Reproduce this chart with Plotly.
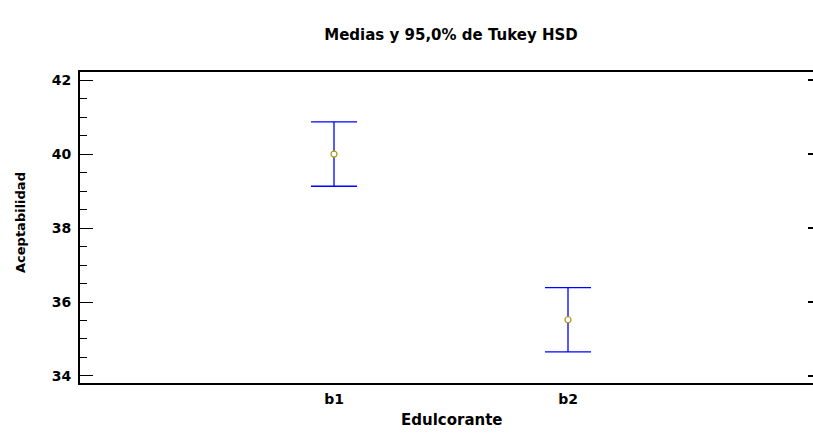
import plotly.graph_objects as go

# Tukey HSD interval data
categories = ["b1", "b2"]
means = [40.0, 35.52]
half_widths = [0.87, 0.87]

y_ticks = [34, 36, 38, 40, 42]

fig = go.Figure()

fig.add_trace(go.Scatter(
    x=categories,
    y=means,
    mode="markers",
    marker=dict(symbol="circle", size=6, color="white",
                line=dict(color="#A89A10", width=1.2)),
    error_y=dict(type="data", array=half_widths, symmetric=True,
                 color="#0000FF", thickness=1.3, width=23),
    showlegend=False,
    hoverinfo="x+y",
))

# invisible trace to carry the right-hand tick axis
fig.add_trace(go.Scatter(x=categories, y=means, yaxis="y2", mode="markers",
                         marker=dict(opacity=0), showlegend=False, hoverinfo="skip"))

y_range = [33.81, 42.22]
font_family = "DejaVu Sans, sans-serif"


def bold_font(size):
    return dict(family=font_family, size=size, color="black", weight="bold")


fig.update_layout(
    width=813, height=433,
    margin=dict(l=80, r=0, t=72, b=50),
    paper_bgcolor="white",
    plot_bgcolor="white",
    title=dict(text="Medias y 95,0% de Tukey HSD",
               x=451 / 813, xanchor="center", y=1 - 35 / 433, yanchor="middle",
               font=bold_font(15)),
    xaxis=dict(
        type="category",
        range=[-1.0855, 2.047],
        showgrid=False, zeroline=False,
        showline=True, linecolor="black", linewidth=2, mirror=True,
        ticks="", tickfont=bold_font(14), ticklabelstandoff=2,
    ),
    yaxis=dict(
        range=y_range,
        showgrid=False, zeroline=False,
        showline=True, linecolor="black", linewidth=2, mirror=False,
        tickvals=y_ticks,
        ticks="inside", ticklen=13, tickwidth=1, tickcolor="black",
        minor=dict(dtick=0.5, tick0=34, ticks="inside", ticklen=7, tickwidth=1,
                   tickcolor="black", showgrid=False),
        tickfont=bold_font(14), ticklabelstandoff=4,
    ),
    yaxis2=dict(
        range=y_range, overlaying="y", side="right",
        showgrid=False, zeroline=False, showline=False,
        tickvals=y_ticks, showticklabels=False,
        ticks="inside", ticklen=5, tickwidth=2, tickcolor="black",
    ),
    annotations=[
        dict(text="Edulcorante", xref="paper", yref="paper",
             x=(452 - 80) / 733, y=-(420 - 383) / 311,
             xanchor="center", yanchor="middle", showarrow=False,
             font=bold_font(15)),
        dict(text="Aceptabilidad", xref="paper", yref="paper",
             x=-(80 - 20) / 733, y=(383 - 222) / 311, textangle=-90,
             xanchor="center", yanchor="middle", showarrow=False,
             font=bold_font(13)),
    ],
)

fig.write_html("out.html")
